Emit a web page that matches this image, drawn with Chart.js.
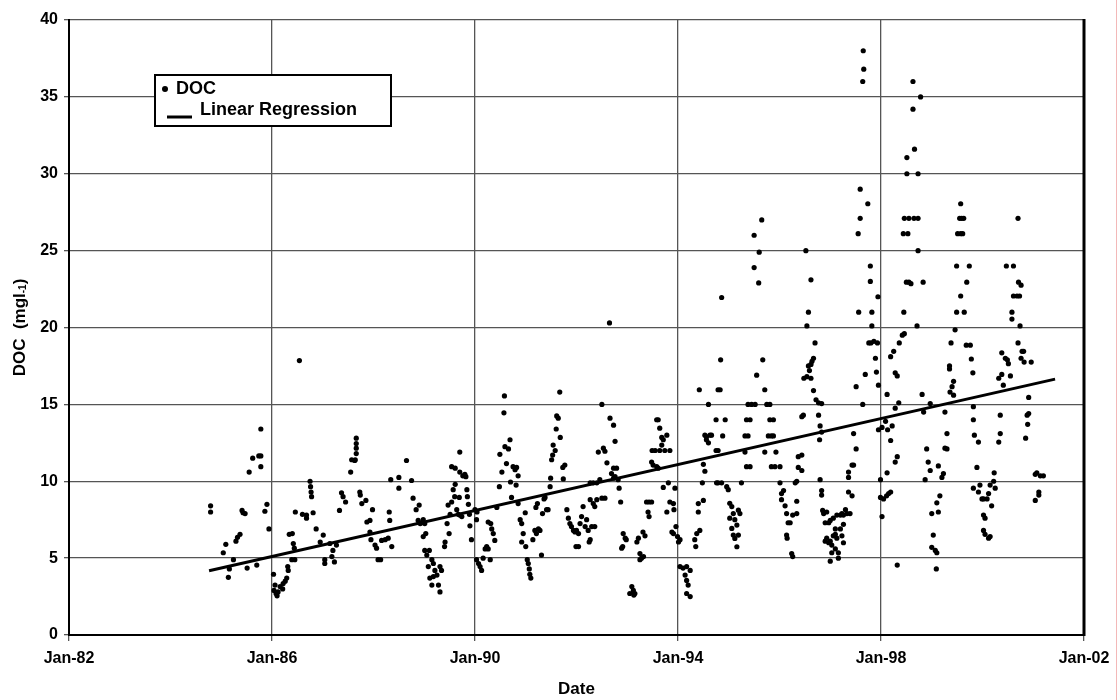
<!DOCTYPE html>
<html lang="en">
<head>
  <meta charset="UTF-8">
  <title>DOC trend</title>
  <style>
    body { margin: 0; background: #fff; }
    #wrap { width: 1120px; height: 700px; }
  </style>
</head>
<body>
  <div id="wrap"><canvas id="docChart"></canvas></div>
  <script src="https://cdn.jsdelivr.net/npm/chart.js"></script>
  <script>
    // x axis ticks (decimal years) and their labels
    const xTickYears = [1982, 1986, 1990, 1994, 1998, 2002]
    const xTickLabels = ['Jan-82', 'Jan-86', 'Jan-90', 'Jan-94', 'Jan-98', 'Jan-02']
    const yTickStep = 5

    // fitted line, start and end (year, mg/l)
    const regressionLine = [[1984.76, 4.18], [2001.43, 16.64]]

    // DOC samples: [decimal year, DOC mg/l]
    const docSamples = [
      [1984.79,8.4],[1984.79,8.0],
      [1985.04,5.35],[1985.09,5.9],[1985.14,3.75],[1985.16,4.3],[1985.24,4.9],
      [1985.29,6.1],[1985.32,6.35],[1985.37,6.55],[1985.41,8.1],[1985.43,7.95],[1985.47,7.9],
      [1985.51,4.35],[1985.55,10.6],[1985.62,11.5],[1985.74,11.65],[1985.78,11.65],[1985.78,10.95],[1985.78,13.4],
      [1985.70,4.55],[1985.86,8.05],[1985.90,8.5],[1985.94,6.9],
      [1986.03,3.95],[1986.06,3.25],[1986.08,2.7],[1986.10,2.55],[1986.04,2.9],[1986.16,3.15],[1986.22,3.35],[1986.29,3.7],
      [1986.26,3.5],[1986.21,3.0],[1986.12,2.8],[1986.32,4.2],[1986.31,4.45],
      [1986.34,6.55],[1986.40,6.6],[1986.39,4.9],[1986.45,4.9],[1986.42,5.95],[1986.44,5.65],
      [1986.54,17.85],
      [1986.46,8.0],[1986.60,7.85],[1986.68,7.6],[1986.68,7.8],[1986.81,7.95],
      [1986.75,10.0],[1986.76,9.65],[1986.77,9.3],[1986.78,9.0],
      [1986.87,6.9],[1986.95,6.05],[1987.01,6.5],[1987.04,4.9],[1987.04,4.65],[1987.14,5.95],[1987.20,5.5],[1987.23,4.75],[1987.18,5.1],[1987.27,5.85],
      [1987.33,8.1],[1987.37,9.25],[1987.40,9.0],[1987.45,8.65],
      [1987.55,10.6],[1987.57,11.4],[1987.64,11.4],[1987.66,12.8],[1987.66,12.45],[1987.66,12.15],[1987.66,11.8],[1987.63,11.35],
      [1987.73,9.3],[1987.74,9.1],[1987.77,8.55],[1987.85,8.75],
      [1987.87,7.35],[1987.93,7.45],[1987.98,8.15],[1987.93,6.7],[1987.95,6.2],[1988.03,5.85],[1988.06,5.65],[1988.09,4.9],
      [1988.14,4.9],[1988.16,6.15],[1988.23,6.2],[1988.29,6.3],[1988.31,8.0],[1988.32,7.45],[1988.36,5.75],
      [1988.34,10.1],[1988.50,10.25],[1988.50,9.55],
      [1988.65,11.35],[1988.75,10.05],
      [1988.78,8.9],[1988.84,8.15],[1988.90,8.45],[1988.88,7.45],[1988.92,7.25],[1988.98,7.5],[1989.01,7.25],[1988.94,7.3],
      [1988.98,6.4],[1989.03,6.6],[1989.01,5.5],[1989.05,5.2],[1989.10,5.5],[1989.08,4.45],[1989.15,4.9],[1989.18,4.65],
      [1989.11,3.7],[1989.18,3.8],[1989.21,4.2],[1989.25,3.9],[1989.31,4.45],[1989.34,4.2],[1989.15,3.25],[1989.28,3.25],[1989.31,2.8],
      [1989.40,5.75],[1989.41,6.05],[1989.45,7.25],[1989.49,6.6],
      [1989.47,8.45],[1989.51,7.85],[1989.54,8.65],[1989.57,9.45],[1989.61,9.8],[1989.60,9.0],[1989.64,8.15],[1989.67,7.85],
      [1989.70,7.8],[1989.74,7.7],[1989.69,8.95],[1989.70,10.6],[1989.76,10.35],[1989.80,10.45],[1989.82,10.3],[1989.84,9.45],
      [1989.85,9.0],[1989.87,8.5],[1989.89,7.85],[1989.90,7.1],[1989.93,6.2],[1989.54,10.95],[1989.61,10.85],[1989.70,11.9],
      [1990.00,8.15],[1990.03,7.5],[1990.04,8.0],
      [1990.03,4.9],[1990.07,4.65],[1990.10,4.45],[1990.13,4.2],[1990.16,5.0],[1990.20,5.6],[1990.23,5.75],[1990.26,5.6],
      [1990.30,4.9],[1990.31,7.25],[1990.26,7.35],[1990.33,6.9],[1990.36,6.6],[1990.39,6.15],[1990.43,8.3],
      [1990.48,9.65],[1990.49,11.75],[1990.53,10.6],[1990.57,14.45],[1990.58,15.55],[1990.59,12.25],[1990.62,11.15],[1990.66,12.1],
      [1990.69,12.7],[1990.70,9.95],[1990.72,8.95],[1990.75,10.95],[1990.79,10.75],[1990.82,10.9],[1990.85,10.35],[1990.81,9.75],
      [1990.85,8.55],[1990.89,7.5],[1990.92,7.25],[1990.95,6.6],[1990.99,7.95],[1990.92,6.05],[1991.00,5.75],[1991.03,4.9],
      [1991.05,4.65],[1991.07,4.3],[1991.08,3.95],[1991.10,3.7],
      [1991.14,6.2],[1991.18,6.8],[1991.21,6.6],[1991.25,6.9],[1991.28,6.8],[1991.31,5.2],[1991.20,8.3],[1991.23,8.55],
      [1991.33,7.9],[1991.36,8.85],[1991.38,8.95],[1991.41,8.15],[1991.44,8.15],
      [1991.48,9.65],[1991.49,10.2],[1991.51,11.4],[1991.53,11.7],[1991.54,12.35],[1991.58,12.0],[1991.60,13.4],[1991.61,14.25],
      [1991.64,14.1],[1991.67,15.8],[1991.68,12.85],[1991.73,10.9],[1991.74,10.15],[1991.77,11.05],
      [1991.81,8.15],[1991.84,7.6],[1991.87,7.25],[1991.90,7.05],[1991.94,6.8],[1991.97,6.7],[1992.00,6.8],[1992.04,6.6],
      [1991.99,5.75],[1992.04,5.75],[1992.07,7.25],[1992.10,7.7],[1992.13,8.35],[1992.17,7.05],[1992.20,7.5],[1992.23,6.8],[1992.25,6.05],
      [1992.27,9.9],[1992.33,9.9],[1992.40,9.9],[1992.46,10.1],[1992.43,11.9],
      [1992.27,8.8],[1992.33,8.55],[1992.36,8.35],[1992.40,8.8],[1992.50,8.9],[1992.56,8.9],[1992.30,7.05],[1992.36,7.05],[1992.27,6.2],
      [1992.65,20.3],[1992.50,15.0],
      [1992.66,14.1],[1992.73,13.65],[1992.76,12.6],[1992.53,12.15],[1992.56,11.95],[1992.60,11.2],[1992.73,10.85],[1992.69,10.5],
      [1992.79,10.85],[1992.82,10.1],[1992.73,10.2],[1992.76,10.3],
      [1992.84,9.55],[1992.87,8.65],
      [1992.92,6.6],[1992.96,6.3],[1992.91,5.75],[1992.89,5.65],[1992.98,6.2],
      [1993.09,3.15],[1993.12,2.9],[1993.05,2.7],[1993.13,2.6],[1993.15,2.7],
      [1993.19,6.05],[1993.22,6.3],[1993.25,5.3],[1993.28,5.0],[1993.32,5.1],[1993.31,6.7],[1993.35,6.45],[1993.25,4.9],
      [1993.38,8.65],[1993.43,8.65],[1993.48,8.65],[1993.41,8.0],[1993.43,7.7],
      [1993.48,11.25],[1993.51,11.05],[1993.58,10.95],[1993.61,10.85],[1993.49,12.0],[1993.55,12.0],[1993.64,12.0],[1993.74,12.0],
      [1993.84,12.0],[1993.58,14.0],[1993.61,14.0],[1993.64,13.45],[1993.68,12.85],[1993.71,12.7],[1993.78,13.0],[1993.68,12.35],
      [1993.71,9.6],[1993.81,9.9],[1993.78,8.0],[1993.84,8.65],[1993.91,8.55],[1993.92,8.15],[1993.94,9.55],[1993.88,6.7],
      [1993.91,6.6],[1993.96,7.05],[1993.99,6.4],[1994.01,6.05],[1994.04,6.2],
      [1994.04,4.45],[1994.10,4.35],[1994.17,4.45],[1994.24,4.2],[1994.14,3.9],[1994.17,3.55],[1994.20,3.25],[1994.17,2.7],[1994.24,2.5],
      [1994.33,6.2],[1994.37,6.6],[1994.43,6.8],[1994.35,5.75],[1994.40,8.55],[1994.40,8.0],[1994.50,8.75],
      [1994.48,9.9],[1994.53,10.65],[1994.50,11.1],[1994.42,15.95],[1994.60,15.0],[1994.53,13.0],[1994.56,12.9],[1994.60,12.5],
      [1994.63,13.0],[1994.66,13.0],[1994.56,12.7],[1994.75,14.0],[1994.79,15.95],[1994.83,15.95],[1994.84,17.9],[1994.75,12.0],
      [1994.79,12.0],[1994.88,12.95],[1994.76,9.9],[1994.79,9.9],[1994.86,9.9],[1994.93,14.0],[1994.86,21.95],
      [1994.96,9.65],[1994.99,9.45],[1995.02,8.57],[1995.06,8.35],[1995.09,7.9],[1995.02,7.6],[1995.12,7.5],[1995.16,7.15],
      [1995.19,8.12],[1995.22,7.9],[1995.06,6.93],[1995.09,6.5],[1995.12,6.28],[1995.16,5.74],[1995.19,6.5],
      [1995.25,9.9],[1995.32,11.9],[1995.32,12.95],[1995.38,12.95],[1995.35,14.0],[1995.42,14.0],[1995.38,15.0],[1995.45,15.0],
      [1995.52,15.0],[1995.42,10.95],[1995.35,10.95],[1995.55,16.9],[1995.67,17.9],[1995.71,15.95],[1995.75,15.0],[1995.81,15.0],
      [1995.81,14.0],[1995.88,14.0],[1995.84,12.95],[1995.78,12.95],[1995.88,12.95],[1995.71,11.9],[1995.93,11.9],[1995.84,10.95],
      [1995.91,10.95],[1996.01,10.95],[1996.01,9.9],[1996.04,9.2],[1996.04,8.8],
      [1995.65,27.0],[1995.50,26.0],[1995.60,24.9],[1995.50,23.9],[1995.59,22.9],
      [1996.08,9.4],[1996.11,8.4],[1996.14,7.9],[1996.14,6.5],[1996.17,7.3],[1996.15,6.3],[1996.21,7.3],[1996.26,7.8],
      [1996.34,7.9],[1996.34,8.7],[1996.24,5.3],[1996.26,5.1],
      [1996.31,9.9],[1996.34,10.0],[1996.37,11.6],[1996.37,10.9],[1996.44,11.7],[1996.44,10.7],[1996.44,14.2],[1996.47,14.3],
      [1996.48,16.7],[1996.54,16.8],[1996.57,17.5],[1996.62,17.6],[1996.62,16.7],[1996.59,17.2],[1996.64,17.8],[1996.67,18.0],[1996.70,19.0],
      [1996.54,20.1],[1996.57,21.0],[1996.62,23.1],[1996.52,25.0],
      [1996.67,15.9],[1996.72,15.3],[1996.77,15.1],[1996.77,14.3],[1996.83,15.05],[1996.80,13.6],[1996.83,13.2],[1996.79,12.7],
      [1996.80,10.1],[1996.83,9.4],[1996.83,9.1],[1996.85,8.1],[1996.87,7.9],[1996.90,7.3],[1996.97,7.3],[1997.00,7.45],
      [1997.06,7.6],[1997.13,7.8],[1997.10,6.9],[1996.93,8.0],
      [1996.90,6.1],[1996.93,6.3],[1996.97,6.0],[1997.00,6.1],[1997.03,5.85],[1997.06,6.45],[1997.10,6.55],[1997.13,6.3],
      [1997.03,5.35],[1997.10,5.6],[1997.16,5.35],[1997.00,4.8],[1997.16,5.0],[1997.23,6.45],[1997.26,6.0],[1997.20,6.9],
      [1997.26,7.2],[1997.20,7.8],[1997.23,7.9],[1997.26,7.8],[1997.33,7.9],[1997.39,7.9],[1997.30,8.15],[1997.36,9.3],[1997.43,9.05],
      [1997.36,10.6],[1997.36,10.25],[1997.43,11.05],[1997.46,11.05],[1997.51,12.1],[1997.46,13.1],[1997.64,15.0],[1997.51,16.15],
      [1997.56,21.0],[1997.55,26.1],[1997.59,27.1],[1997.59,29.0],[1997.74,28.05],[1997.64,36.0],[1997.66,36.8],[1997.65,38.0],
      [1997.69,16.95],[1997.76,19.0],[1997.79,23.0],[1997.79,24.0],[1997.82,21.0],[1997.82,20.1],[1997.80,19.0],[1997.86,19.1],
      [1997.89,18.0],[1997.91,17.1],[1997.93,19.0],[1997.95,16.25],[1997.94,22.0],
      [1997.95,13.35],[1997.99,10.1],[1998.02,7.7],[1998.05,8.85],[1998.11,9.05],[1998.12,10.55],[1998.15,9.2],[1998.19,9.3],
      [1997.99,8.95],[1998.09,13.9],[1998.12,15.65],[1998.13,13.35],[1998.19,18.1],[1998.25,18.45],[1998.28,17.05],[1998.32,16.85],
      [1998.35,15.1],[1998.28,14.75],[1998.36,19.0],[1998.42,19.5],[1998.46,19.6],[1998.45,21.0],[1998.50,22.95],[1998.55,22.95],
      [1998.59,22.85],[1998.44,26.1],[1998.53,26.1],[1998.46,27.1],[1998.55,27.1],[1998.65,27.1],[1998.73,27.1],[1998.51,30.0],
      [1998.73,30.0],[1998.66,31.6],[1998.51,31.05],[1998.63,34.2],[1998.63,36.0],[1998.78,35.0],[1998.73,25.0],[1998.83,22.95],
      [1998.71,20.1],[1998.81,15.65],[1998.19,12.65],[1998.28,11.25],[1998.32,11.6],[1998.22,13.6],[1998.02,13.5],
      [1998.32,4.55],[1998.84,14.5],
      [1998.90,12.1],[1998.93,11.25],[1998.97,10.7],[1998.87,10.1],[1998.97,15.05],[1999.13,11.0],[1999.20,10.25],[1999.23,10.5],
      [1999.26,12.15],[1999.30,12.1],[1999.30,13.1],[1999.26,14.5],[1999.16,9.05],[1999.10,8.6],[1999.13,8.0],[1999.00,7.9],
      [1999.03,6.5],[1999.00,5.7],[1999.07,5.5],[1999.10,5.35],[1999.09,4.3],
      [1999.36,15.8],[1999.40,16.15],[1999.43,16.5],[1999.43,15.6],[1999.35,17.5],[1999.35,17.3],[1999.38,19.0],[1999.46,19.85],
      [1999.49,21.0],[1999.49,24.0],[1999.57,22.05],[1999.64,21.0],[1999.69,22.95],[1999.74,24.0],[1999.68,18.85],[1999.76,18.85],
      [1999.78,17.95],[1999.81,17.05],[1999.51,26.1],[1999.55,27.1],[1999.59,27.1],[1999.63,27.1],[1999.57,26.1],[1999.61,26.1],[1999.57,28.05],
      [1999.82,14.85],[1999.82,14.0],[1999.84,13.0],[1999.92,12.55],[1999.89,10.9],[1999.82,9.55],[1999.92,9.3],[1999.95,9.75],
      [1999.99,8.85],[2000.02,8.85],[2000.09,8.85],[2000.12,9.2],[2000.15,9.75],[2000.18,8.4],[2000.02,7.8],[2000.05,7.6],
      [2000.02,6.8],[2000.05,6.55],[2000.12,6.3],[2000.15,6.4],[2000.23,10.55],[2000.25,9.55],[2000.22,10.0],
      [2000.32,12.55],[2000.35,13.1],[2000.35,14.3],[2000.32,16.7],[2000.38,16.95],[2000.41,16.25],[2000.38,18.35],[2000.45,18.0],
      [2000.49,17.9],[2000.51,17.65],[2000.55,16.85],[2000.47,24.0],[2000.61,24.0],[2000.58,20.55],[2000.58,21.0],[2000.61,22.05],
      [2000.68,22.05],[2000.73,22.05],[2000.76,22.75],[2000.71,22.95],[2000.70,27.1],[2000.74,20.1],[2000.70,19.0],[2000.78,18.45],
      [2000.81,18.45],[2000.76,18.0],[2000.82,17.75],[2000.96,17.75],[2000.91,15.45],[2000.91,14.4],[2000.88,14.3],[2000.89,13.7],[2000.85,12.8],
      [2001.04,8.75],[2001.11,9.1],[2001.11,9.3],[2001.04,10.45],[2001.07,10.55],[2001.14,10.35],[2001.20,10.35]
    ]

    const FONT = "'Liberation Sans', Arial, sans-serif"

    // axis titles, heavy right border and the boxed legend
    const decorations = {
      id: 'decorations',
      afterDraw(chart) {
        const { ctx, chartArea: a } = chart
        ctx.save()

        ctx.strokeStyle = '#000'
        ctx.lineWidth = 3
        ctx.beginPath()
        ctx.moveTo(a.right, a.top - 1)
        ctx.lineTo(a.right, a.bottom + 1)
        ctx.stroke()

        // scanner-ish pink edge on the far right
        ctx.strokeStyle = '#f3b8b8'
        ctx.lineWidth = 1
        ctx.beginPath()
        ctx.moveTo(1116.5, 0)
        ctx.lineTo(1116.5, 700)
        ctx.stroke()

        ctx.fillStyle = '#000'
        ctx.textBaseline = 'middle'

        // x title
        ctx.font = `bold 17px ${FONT}`
        ctx.textAlign = 'center'
        ctx.fillText('Date', (a.left + a.right) / 2, 689)

        // y title with the small "-1"
        const big = `bold 17px ${FONT}`
        const small = `bold 10px ${FONT}`
        ctx.font = big
        const w1 = ctx.measureText('DOC  (mgl').width
        const w3 = ctx.measureText(')').width
        ctx.font = small
        const w2 = ctx.measureText('-1').width
        const total = w1 + w2 + w3
        ctx.translate(20, (a.top + a.bottom) / 2)
        ctx.rotate(-Math.PI / 2)
        ctx.textAlign = 'left'
        let x = -total / 2
        ctx.font = big
        ctx.fillText('DOC  (mgl', x, 0)
        x += w1
        ctx.font = small
        ctx.fillText('-1', x, 3)
        x += w2
        ctx.font = big
        ctx.fillText(')', x, 0)
        ctx.setTransform(1, 0, 0, 1, 0, 0)

        // legend box
        ctx.fillStyle = '#fff'
        ctx.fillRect(155, 75, 236, 51)
        ctx.strokeStyle = '#000'
        ctx.lineWidth = 2
        ctx.strokeRect(155, 75, 236, 51)

        ctx.fillStyle = '#000'
        ctx.beginPath()
        ctx.arc(165, 89, 3, 0, Math.PI * 2)
        ctx.fill()
        ctx.lineWidth = 3
        ctx.beginPath()
        ctx.moveTo(167, 117)
        ctx.lineTo(192, 117)
        ctx.stroke()

        ctx.font = `bold 18px ${FONT}`
        ctx.textAlign = 'left'
        ctx.fillText('DOC', 176, 89)
        ctx.fillText('Linear Regression', 200, 110)

        ctx.restore()
      }
    }

    const ctx = document.getElementById('docChart')

    new Chart(ctx, {
      type: 'scatter',
      data: {
        datasets: [
          {
            label: 'DOC',
            data: docSamples.map(p => ({ x: p[0], y: p[1] })),
            pointRadius: 2.6,
            pointBorderWidth: 0,
            backgroundColor: '#000',
            borderColor: '#000'
          },
          {
            label: 'Linear Regression',
            type: 'line',
            data: regressionLine.map(p => ({ x: p[0], y: p[1] })),
            showLine: true,
            pointRadius: 0,
            borderWidth: 3,
            borderColor: '#000'
          }
        ]
      },
      options: {
        responsive: true,
        maintainAspectRatio: false,
        animation: false,
        layout: { padding: { top: 20, right: 36, left: 0, bottom: 0 } },
        plugins: {
          legend: { display: false },
          tooltip: { enabled: false }
        },
        scales: {
          x: {
            type: 'linear',
            min: xTickYears[0],
            max: xTickYears[xTickYears.length - 1],
            afterBuildTicks: scale => { scale.ticks = xTickYears.map(v => ({ value: v })) },
            afterFit: scale => { scale.height = 65 },
            ticks: {
              callback: v => xTickLabels[xTickYears.indexOf(v)],
              color: '#000',
              font: { family: FONT, size: 16, weight: 'bold' },
              padding: 8,
              maxRotation: 0
            },
            grid: { color: '#555', lineWidth: 1.3, tickLength: 6 },
            border: { color: '#000', width: 2 }
          },
          y: {
            min: 0,
            max: 40,
            afterFit: scale => { scale.width = 69 },
            ticks: {
              stepSize: yTickStep,
              color: '#000',
              font: { family: FONT, size: 16, weight: 'bold' },
              padding: 6
            },
            grid: { color: '#555', lineWidth: 1.3, tickLength: 5 },
            border: { color: '#000', width: 2 }
          }
        }
      },
      plugins: [decorations]
    })
  </script>
</body>
</html>
